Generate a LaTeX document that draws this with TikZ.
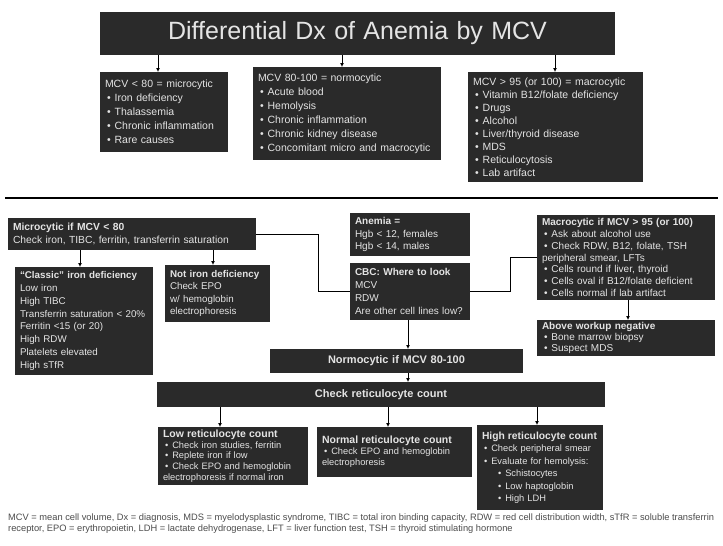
\documentclass[tikz,border=0pt]{standalone}
\usepackage{fontspec}
\setmainfont{Liberation Sans}
\usetikzlibrary{arrows.meta}
\definecolor{boxfill}{HTML}{2A2A2A}
\definecolor{boxtext}{HTML}{E4E4E4}
\newcommand\myb{\hspace*{2pt}\textbullet\hspace{4pt}}
\tikzset{
  dbox/.style={fill=boxfill, text=boxtext, anchor=north west, align=left,
    inner xsep=5pt, inner ysep=2pt, outer sep=0pt, font=\fontsize{10.5}{14}\selectfont},
  lbox/.style={dbox, font=\fontsize{10}{12.8}\selectfont},
  arr/.style={draw=black, line width=1pt, -{Latex[length=4pt,width=4pt]}},
  conn/.style={draw=black, line width=1pt},
}
\begin{document}
\begin{tikzpicture}[x=1pt,y=-1pt]
\useasboundingbox[fill=white] (0,0) rectangle (723,546);

% top section
\node[dbox, font=\fontsize{25}{28}\selectfont, align=center, text width=505pt, minimum height=43pt] (title) at (100,12) {Differential Dx of Anemia by MCV};

\node[dbox, text width=118pt, minimum height=80pt] (b1) at (100,72)
 {MCV < 80 = microcytic\\\myb Iron deficiency\\\myb Thalassemia\\\myb Chronic inflammation\\\myb Rare causes};
\node[dbox, text width=178pt, minimum height=93pt] (b2) at (253,67)
 {MCV 80-100 = normocytic\\\myb Acute blood\\\myb Hemolysis\\\myb Chronic inflammation\\\myb Chronic kidney disease\\\myb Concomitant micro and macrocytic};
\node[dbox, font=\fontsize{10.5}{13}\selectfont, text width=165pt, minimum height=110pt] (b3) at (468,72)
 {MCV > 95 (or 100) = macrocytic\\\myb Vitamin B12/folate deficiency\\\myb Drugs\\\myb Alcohol\\\myb Liver/thyroid disease\\\myb MDS\\\myb Reticulocytosis\\\myb Lab artifact};

\coordinate (t1) at (158,0);
\coordinate (t2) at (342,0);
\coordinate (t3) at (555,0);
\draw[arr] (title.south -| t1) -- (b1.north -| t1);
\draw[arr] (title.south -| t2) -- (b2.north -| t2);
\draw[arr] (title.south -| t3) -- (b3.north -| t3);

% separator
\coordinate (s1) at (5,198);
\coordinate (s2) at (718,198);
\draw[line width=1.6pt] (s1) -- (s2);

% bottom section
\node[lbox, font=\fontsize{10.3}{13}\selectfont, text width=238pt, minimum height=32pt] (m1) at (8,218)
 {\textbf{Microcytic if MCV < 80}\\Check iron, TIBC, ferritin, transferrin saturation};
\node[lbox, text width=110pt, minimum height=43pt, font=\fontsize{10}{12.5}\selectfont] (anemia) at (350,213)
 {\textbf{Anemia =}\\Hgb < 12, females\\Hgb < 14, males};
\node[lbox, text width=110pt, minimum height=57pt] (cbc) at (350,263)
 {\textbf{CBC: Where to look}\\MCV\\RDW\\Are other cell lines low?};
\node[lbox, text width=168pt, minimum height=85pt, font=\fontsize{10}{11.8}\selectfont] (macro) at (537,215)
 {\textbf{Macrocytic if MCV > 95 (or 100)}\\\myb Ask about alcohol use\\\myb Check RDW, B12, folate, TSH\\peripheral smear, LFTs\\\myb Cells round if liver, thyroid\\\myb Cells oval if B12/folate deficient\\\myb Cells normal if lab artifact};
\node[lbox, text width=168pt, minimum height=36pt, font=\fontsize{10}{11}\selectfont] (above) at (537,320)
 {\textbf{Above workup negative}\\\myb Bone marrow biopsy\\\myb Suspect MDS};
\node[lbox, text width=128pt, minimum height=108pt, font=\fontsize{9.8}{12.8}\selectfont] (classic) at (15,267)
 {\textbf{``Classic'' iron deficiency}\\Low iron\\High TIBC\\Transferrin saturation < 20\%\\Ferritin <15 (or 20)\\High RDW\\Platelets elevated\\High sTfR};
\node[lbox, text width=95pt, minimum height=57pt, font=\fontsize{9.8}{12.5}\selectfont] (notiron) at (165,265)
 {\textbf{Not iron deficiency}\\Check EPO\\w/ hemoglobin\\electrophoresis};
\node[lbox, align=center, text width=243pt, minimum height=24pt, font=\fontsize{11}{13}\selectfont] (normo) at (270,349)
 {\textbf{Normocytic if MCV 80-100}};
\node[lbox, align=center, text width=438pt, minimum height=25pt, font=\fontsize{11}{13}\selectfont] (retic) at (157,382)
 {\textbf{Check reticulocyte count}};
\node[lbox, text width=140pt, minimum height=58pt, font=\fontsize{9.3}{10.8}\selectfont] (low) at (158,427)
 {\textbf{\fontsize{10.5}{12}\selectfont Low reticulocyte count}\\\myb Check iron studies, ferritin\\\myb Replete iron if low\\\myb Check EPO and hemoglobin\\electrophoresis if normal iron};
\node[lbox, text width=145pt, minimum height=50pt, font=\fontsize{9.3}{11}\selectfont] (normal) at (317,427)
 {\textbf{\fontsize{10.5}{12}\selectfont Normal reticulocyte count}\\\myb Check EPO and hemoglobin\\electrophoresis};
\node[lbox, text width=116pt, minimum height=85pt, font=\fontsize{9.3}{12.5}\selectfont] (high) at (477,425)
 {\textbf{\fontsize{10.3}{12}\selectfont High reticulocyte count}\\\myb Check peripheral smear\\\myb Evaluate for hemolysis:\\\hspace*{14pt}\myb Schistocytes\\\hspace*{14pt}\myb Low haptoglobin\\\hspace*{14pt}\myb High LDH};

% connectors
\coordinate (k1) at (318,0);
\coordinate (k2) at (510,0);
\coordinate (c1) at (80,0);
\coordinate (c2) at (213,0);
\coordinate (c3) at (408,0);
\coordinate (c4) at (628,0);
\coordinate (r1) at (220,0);
\coordinate (r2) at (388,0);
\coordinate (r3) at (537,0);
\draw[conn] (m1.east) -- (m1.east -| k1) -- (k1 |- cbc.west) -- (cbc.west);
\draw[conn] (cbc.east) -- (cbc.east -| k2) -- (k2 |- macro.west) -- (macro.west);
\draw[arr] (m1.south -| c1) -- (classic.north -| c1);
\draw[arr] (m1.south -| c2) -- (notiron.north -| c2);
\draw[arr] (cbc.south -| c3) -- (normo.north -| c3);
\draw[arr] (normo.south -| c3) -- (retic.north -| c3);
\draw[arr] (macro.south -| c4) -- (above.north -| c4);
\draw[arr] (retic.south -| r1) -- (low.north -| r1);
\draw[arr] (retic.south -| r2) -- (normal.north -| r2);
\draw[arr] (retic.south -| r3) -- (high.north -| r3);

% footnote
\node[anchor=north west, inner sep=0pt, align=left, text=black!70, font=\fontsize{9.3}{11}\selectfont] (foot) at (8,514)
 {MCV = mean cell volume, Dx = diagnosis, MDS = myelodysplastic syndrome, TIBC = total iron binding capacity, RDW = red cell distribution width, sTfR = soluble transferrin\\receptor, EPO = erythropoietin, LDH = lactate dehydrogenase, LFT = liver function test, TSH = thyroid stimulating hormone};
\end{tikzpicture}
\end{document}
